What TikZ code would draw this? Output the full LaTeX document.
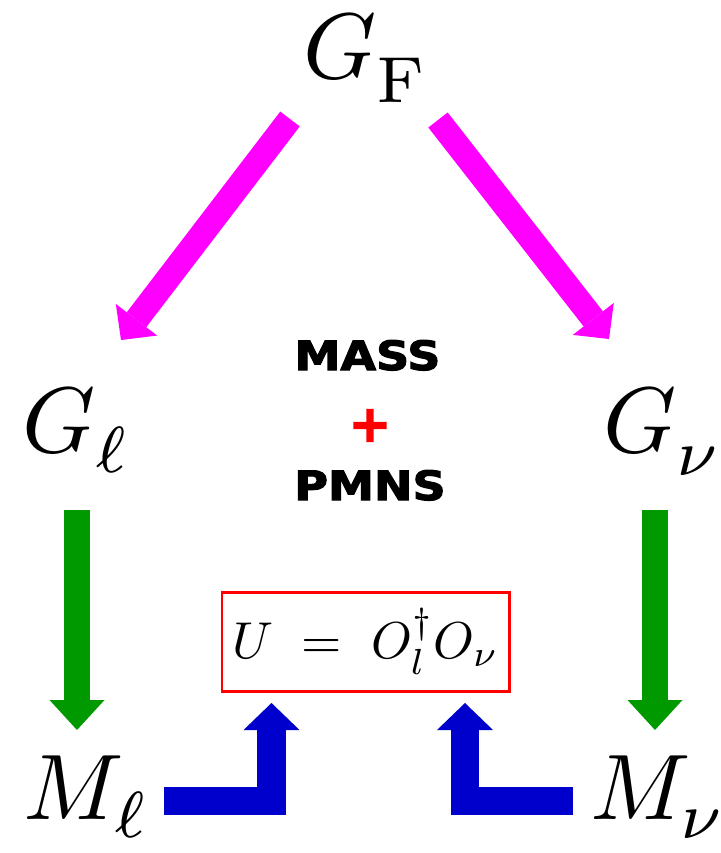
\documentclass[tikz,border=0pt]{standalone}
\usepackage{fontspec}
\usepackage{amsmath}
\usepackage{graphicx}
\usetikzlibrary{arrows.meta, positioning, calc}
\newfontfamily\labelfont{DejaVu Sans}[BoldFeatures={FakeBold=2.5}]
\definecolor{flavmagenta}{HTML}{FF00FF}
\definecolor{flavgreen}{HTML}{009900}
\definecolor{flavblue}{HTML}{0000CC}
\definecolor{flavred}{HTML}{FF0000}
% lowered subscript
\newcommand{\lowsub}[2]{_{\lower#1\hbox{$\scriptstyle #2$}}}

\begin{document}
\begin{tikzpicture}[
  grp/.style={anchor=base, inner sep=0pt, scale=5.3},
  word/.style={anchor=base, inner sep=0pt, xscale=1.14,
               font=\labelfont\bfseries\fontsize{23}{27}\selectfont},
  breakdown/.style={draw=flavmagenta, line width=0.49cm,
                    -{Triangle[length=0.51cm, width=1.04cm, line width=0pt]}},
  massarr/.style={draw=flavgreen, line width=0.53cm,
                  -{Triangle[length=0.6cm, width=1.1cm, line width=0pt]}},
  mixarr/.style={draw=flavblue, line width=0.57cm, line join=miter,
                 -{Triangle[length=0.54cm, width=1.12cm, line width=0pt]}},
]
  \useasboundingbox (0,0) rectangle (14.4,-17.06);

  % groups
  \node[grp] (gF) at (7.33,-1.56)  {$G\lowsub{1.1pt}{\mathrm{F}}$};
  \node[grp] (gl) at (1.54,-9.04)  {$G\lowsub{0.7pt}{\ell}$};
  \node[grp] (gn) at (13.27,-9.04) {$G\lowsub{1pt}{\nu}$};
  % mass matrices
  \node[grp] (ml) at (1.74,-16.38) {$M\lowsub{0.5pt}{\ell}$};
  \node[grp] (mn) at (13.17,-16.38) {$M\lowsub{0.6pt}{\nu}$};

  % middle text
  \node[word] (mass) at (7.35,-7.40) {MASS};
  \node[anchor=base, inner sep=0pt, text=flavred,
        font=\labelfont\bfseries\fontsize{29}{30}\selectfont] (plus) at (7.40,-8.83) {+};
  \node[word] (pmns) at (7.40,-10.0) {PMNS};

  \node[draw=flavred, line width=1.7pt, minimum width=5.74cm, minimum height=1.98cm,
        inner sep=0pt] (pmnsbox) at (7.31,-12.83)
        {\scalebox{2.95}{$U\;=\;O_l^\dagger O_\nu$}};

  % arrow ends
  \coordinate (gF-l) at (5.80,-2.38);
  \coordinate (gl-in) at (2.42,-6.80);
  \coordinate (gF-n) at (8.76,-2.40);
  \coordinate (gn-in) at (12.18,-6.78);
  \coordinate (gl-out) at (1.54,-10.2);
  \coordinate (ml-in) at (1.54,-14.6);
  \coordinate (gn-out) at (13.1,-10.2);
  \coordinate (mn-in) at (13.1,-14.6);
  \coordinate (ml-out) at (3.28,-16.02);
  \coordinate (box-l) at (5.43,-14.06);
  \coordinate (mn-out) at (11.46,-16.02);
  \coordinate (box-n) at (9.30,-14.06);

  \draw[breakdown] (gF-l) -- (gl-in);
  \draw[breakdown] (gF-n) -- (gn-in);
  \draw[massarr] (gl-out) -- (ml-in);
  \draw[massarr] (gn-out) -- (mn-in);
  \draw[mixarr] (ml-out) -| (box-l);
  \draw[mixarr] (mn-out) -| (box-n);
\end{tikzpicture}
\end{document}
